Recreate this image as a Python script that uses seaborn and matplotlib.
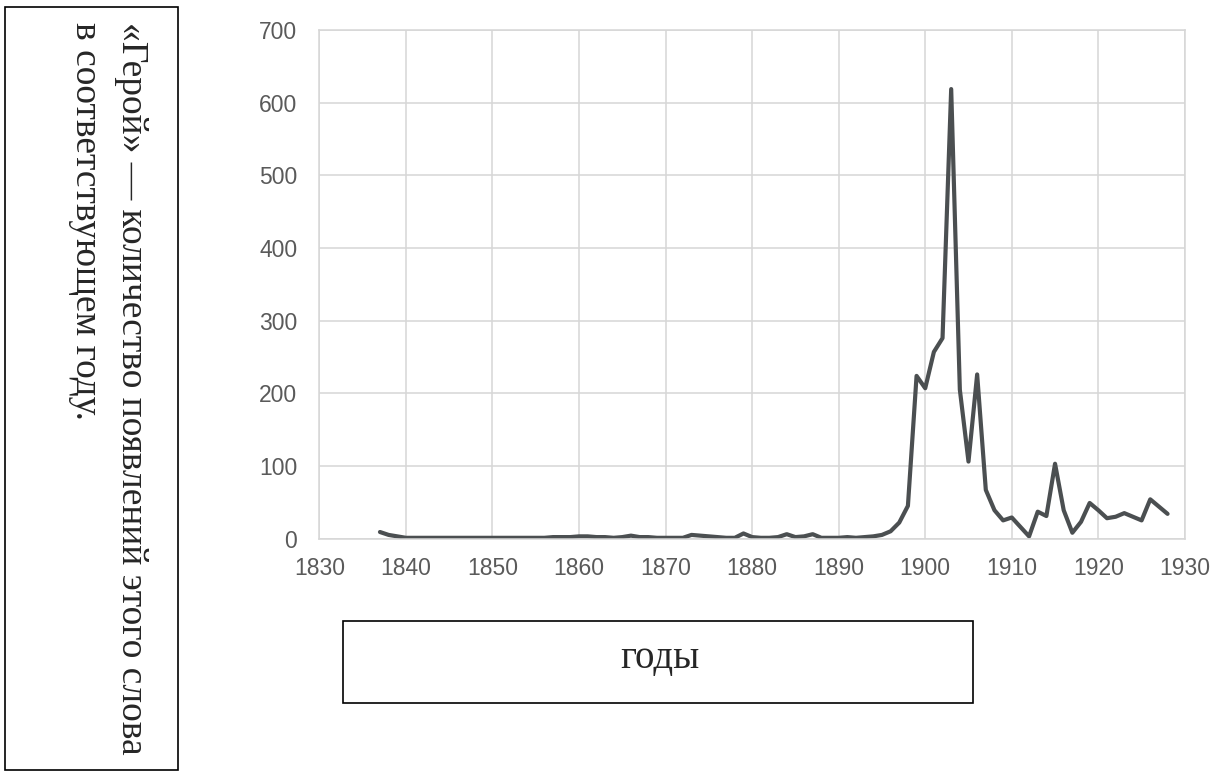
import matplotlib
matplotlib.use("Agg")
import matplotlib.pyplot as plt
import seaborn as sns
import pandas as pd
from matplotlib.patches import Rectangle


### Data ###

years = list(range(1837, 1929))
counts = [
    9, 5, 3, 1,
    1, 1, 1, 1, 1, 1, 1, 1, 1, 1,
    1, 1, 1, 1, 1, 1, 2, 2, 2, 3,
    3, 2, 2, 1, 2, 4, 2, 2, 1, 1,
    1, 1, 5, 4, 3, 2, 1, 1, 7, 2,
    1, 1, 2, 6, 2, 3, 6, 1, 1, 1,
    2, 1, 2, 3, 5, 10, 22, 45, 224, 207,
    257, 276, 619, 205, 106, 226, 67, 39, 25, 29,
    16, 3, 37, 31, 103, 39, 8, 23, 49, 39,
    28, 30, 35, 30, 25, 54, 44, 34,
]
x_ticks = list(range(1830, 1931, 10))
y_ticks = list(range(0, 701, 100))

side_text_1 = "«Герой» — количество появлений этого слова"
side_text_2 = "в соответствующем году."
bottom_text = "годы"

df = pd.DataFrame({"year": years, "count": counts})


### Plot ###

sns.set_style("whitegrid")
plt.rcParams["font.family"] = ["Liberation Sans", "DejaVu Sans"]
serif = ["Liberation Serif", "DejaVu Serif"]

fig = plt.figure(figsize=(12.19, 7.76), dpi=100)
ax = fig.add_axes([0.262, 0.306, 0.710, 0.655])

sns.lineplot(data=df, x="year", y="count", ax=ax,
             color="#4b4f51", linewidth=3.0, solid_joinstyle="round")

ax.set_xlim(1830, 1930)
ax.set_ylim(0, 700)
ax.set_xticks(x_ticks)
ax.set_yticks(y_ticks)
ax.set_xlabel("")
ax.set_ylabel("")

ax.grid(True, color="#d6d6d6", linewidth=1.1)
for side in ax.spines.values():
    side.set_color("#d6d6d6")
    side.set_linewidth(1.1)

ax.tick_params(axis="x", length=0, pad=13, labelsize=16.5, labelcolor="#5a5a5a")
ax.tick_params(axis="y", length=0, pad=16, labelsize=16.5, labelcolor="#5a5a5a")

# left frame with the rotated caption
fig.add_artist(Rectangle((5 / 1219, 1 - 770 / 776), 173 / 1219, 763 / 776,
                         transform=fig.transFigure, fill=False,
                         edgecolor="black", linewidth=1.2))
fig.text(122 / 1219, 1 - 22 / 776, side_text_1, rotation=-90,
         rotation_mode="anchor", ha="left", va="baseline",
         family=serif, fontsize=27)
fig.text(76 / 1219, 1 - 22 / 776, side_text_2, rotation=-90,
         rotation_mode="anchor", ha="left", va="baseline",
         family=serif, fontsize=27)

# bottom frame with axis caption
fig.add_artist(Rectangle((343 / 1219, 1 - 703 / 776), 630 / 1219, 82 / 776,
                         transform=fig.transFigure, fill=False,
                         edgecolor="black", linewidth=1.2))
fig.text(660 / 1219, 1 - 668 / 776, bottom_text, ha="center", va="baseline",
         family=serif, fontsize=28)

fig.savefig("out.png", dpi=100)
